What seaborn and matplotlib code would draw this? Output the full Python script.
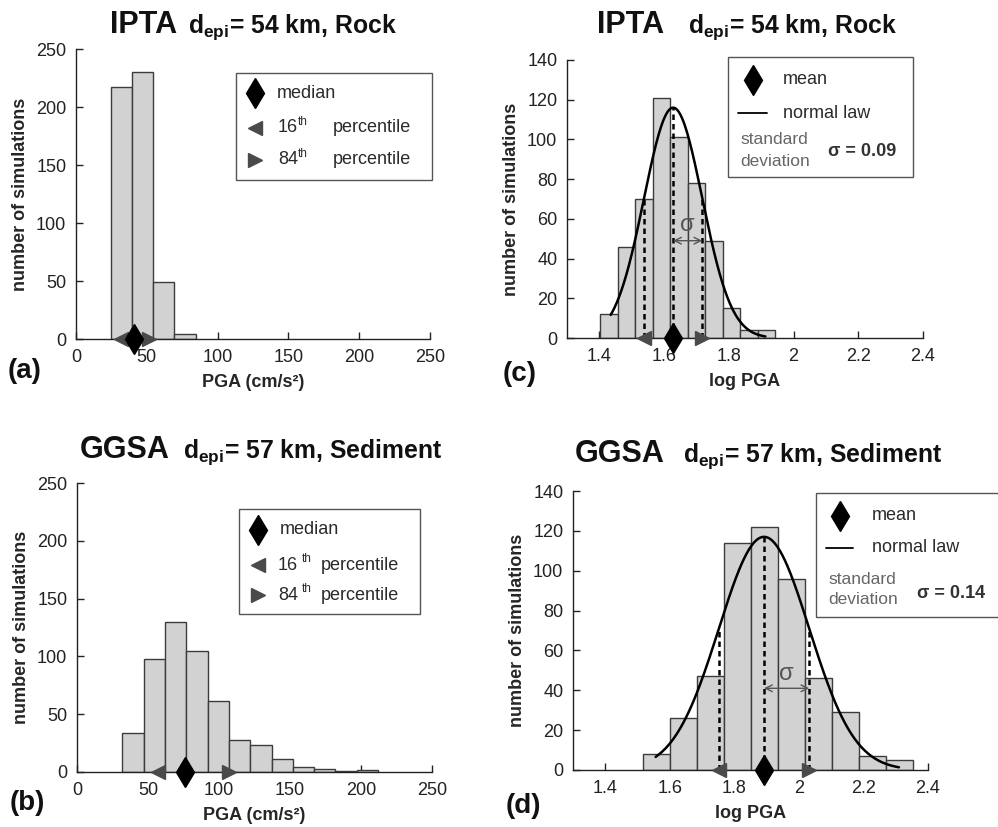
import numpy as np
import pandas as pd
import matplotlib
matplotlib.use("Agg")
import matplotlib.pyplot as plt
import seaborn as sns
from matplotlib.patches import Rectangle
from matplotlib.lines import Line2D

# ---------------- data ----------------
a_edges = [24.5, 39.5, 54.5, 69.5, 84.5]
a_counts = [217, 230, 49, 4]
a_median, a_p16, a_p84 = 41, 31.5, 51.5

b_edges = [32, 47, 62, 77, 92, 107, 122, 137, 152, 167, 182, 197, 212]
b_counts = [34, 98, 130, 105, 61, 28, 23, 11, 4, 3, 1, 2]
b_median, b_p16, b_p84 = 76, 57, 107

c_edges = [1.403, 1.457, 1.511, 1.565, 1.619, 1.673, 1.727, 1.781, 1.835, 1.889, 1.943]
c_counts = [12, 46, 70, 121, 101, 78, 49, 15, 4, 4]
c_mean, c_sigma, c_amp = 1.628, 0.09, 116
c_range = [1.435, 1.913]

d_edges = [1.516, 1.600, 1.684, 1.767, 1.851, 1.935, 2.019, 2.103, 2.187, 2.271, 2.355]
d_counts = [8, 26, 47, 114, 122, 96, 46, 29, 7, 5]
d_mean, d_sigma, d_amp = 1.892, 0.14, 117
d_range = [1.556, 2.310]

pga_ticks = [0, 50, 100, 150, 200, 250]
log_ticks = [1.4, 1.6, 1.8, 2.0, 2.2, 2.4]
log_ticklabels = ["1.4", "1.6", "1.8", "2", "2.2", "2.4"]
count_ticks_pga = [0, 50, 100, 150, 200, 250]
count_ticks_log = [0, 20, 40, 60, 80, 100, 120, 140]

# ---------------- style ----------------
sns.set_theme(style="ticks")
plt.rcParams["font.family"] = ["Liberation Sans", "DejaVu Sans"]
plt.rcParams["mathtext.fontset"] = "custom"
plt.rcParams["mathtext.rm"] = "Liberation Sans"
plt.rcParams["mathtext.bf"] = "Liberation Sans:bold"
plt.rcParams["mathtext.it"] = "Liberation Sans:italic"
plt.rcParams["xtick.direction"] = "in"
plt.rcParams["ytick.direction"] = "in"

W, H = 998, 827
fig = plt.figure(figsize=(W / 100, H / 100), dpi=100)


def fx(px):
    return px / W


def fy(py):
    return 1 - py / H


def make_ax(L, T, R, B):
    return fig.add_axes([fx(L), fy(B), (R - L) / W, (B - T) / H])


BAR_FC = "#d2d2d2"
BAR_EC = "#3c3c3c"
TRI_C = "#4a4a4a"
TXT_C = "#2a2a2a"
DIA_MS = 15
TRI_MS = 10


def base_axes(ax, xlim, xticks, xticklabels, ylim, yticks, xlabel):
    ax.set_xlim(*xlim)
    ax.set_ylim(*ylim)
    ax.set_xticks(xticks)
    ax.set_xticklabels(xticklabels)
    ax.set_yticks(yticks)
    sns.despine(ax=ax)
    for s in ["left", "bottom"]:
        ax.spines[s].set_color("#222222")
        ax.spines[s].set_linewidth(1.0)
    ax.tick_params(axis="both", labelsize=13, length=5, width=1, colors="#222222", pad=7)
    ax.set_xlabel(xlabel, fontsize=13, fontweight="bold", labelpad=6)
    ax.set_ylabel("number of simulations", fontsize=13, fontweight="bold", labelpad=5)
    ax.set_facecolor("white")


def hist(ax, edges, counts):
    e = [float(v) for v in edges]
    centers = [(e[i] + e[i + 1]) / 2 for i in range(len(e) - 1)]
    df = pd.DataFrame({"x": centers, "w": [float(c) for c in counts]})
    sns.histplot(data=df, x="x", weights="w", bins=e, ax=ax, stat="count",
                 color=BAR_FC, edgecolor=BAR_EC, linewidth=1.0, alpha=1)


def pct_markers(ax, median, p16, p84):
    ax.plot([p16], [0], marker="<", ms=TRI_MS, color=TRI_C, clip_on=False, zorder=10, ls="none")
    ax.plot([p84], [0], marker=">", ms=TRI_MS, color=TRI_C, clip_on=False, zorder=10, ls="none")
    ax.plot([median], [0], marker="d", ms=DIA_MS, color="black", clip_on=False, zorder=11, ls="none")


def normal_overlay(ax, mean, sigma, amp, xr, arrow_y, sig_y):
    xs = np.linspace(xr[0], xr[1], 300)
    ys = amp * np.exp(-0.5 * ((xs - mean) / sigma) ** 2)
    sns.lineplot(x=xs, y=ys, ax=ax, color="black", lw=1.8, zorder=5)
    for xv in [mean - sigma, mean, mean + sigma]:
        h = amp * np.exp(-0.5 * ((xv - mean) / sigma) ** 2)
        ax.plot([xv, xv], [0, h], color="black", lw=1.8, ls=(0, (2.2, 1.6)), zorder=6)
    ax.annotate("", xy=(mean, arrow_y), xytext=(mean + sigma, arrow_y),
                arrowprops=dict(arrowstyle="<->", color="#555555", lw=1.0,
                                shrinkA=0, shrinkB=0), zorder=7)
    ax.text(mean + sigma / 2, sig_y, "σ", fontsize=17, color="#555555",
            ha="center", va="center", zorder=7)
    pct_markers(ax, mean, mean - sigma, mean + sigma)


def fig_marker(x, y, marker, ms, color):
    fig.add_artist(Line2D([fx(x)], [fy(y)], marker=marker, ms=ms, color=color,
                          ls="none", transform=fig.transFigure, zorder=22))


def fig_box(x0, y0, x1, y1):
    fig.add_artist(Rectangle((fx(x0), fy(y1)), (x1 - x0) / W, (y1 - y0) / H,
                             transform=fig.transFigure, facecolor="white",
                             edgecolor="#555555", lw=1.0, zorder=20))


def ftxt(x, y, s, **kw):
    kw.setdefault("va", "center")
    kw.setdefault("ha", "left")
    kw.setdefault("zorder", 21)
    fig.text(fx(x), fy(y), s, **kw)


def pct_legend(box, mx, rows, tx16, txth, txpct, tx_med):
    fig_box(*box)
    fig_marker(mx, rows[0], "d", DIA_MS, "black")
    fig_marker(mx, rows[1], "<", TRI_MS, TRI_C)
    fig_marker(mx, rows[2], ">", TRI_MS, TRI_C)
    ftxt(tx_med, rows[0], "median", fontsize=13, color=TXT_C)
    for r, num in zip(rows[1:], ["16", "84"]):
        ftxt(tx16, r, num, fontsize=13, color=TXT_C)
        ftxt(txth, r - 6, "th", fontsize=8.5, color=TXT_C)
        ftxt(txpct, r, "percentile", fontsize=13, color=TXT_C)


def normal_legend(box, mx, rows, line_x, tx, std_x, std_rows, sig_x, sig_y, sig_txt):
    fig_box(*box)
    fig_marker(mx, rows[0], "d", DIA_MS, "black")
    fig.add_artist(Line2D([fx(line_x[0]), fx(line_x[1])], [fy(rows[1]), fy(rows[1])],
                          color="black", lw=1.3, transform=fig.transFigure, zorder=22))
    ftxt(tx, rows[0], "mean", fontsize=13, color=TXT_C)
    ftxt(tx, rows[1], "normal law", fontsize=13, color=TXT_C)
    ftxt(std_x, std_rows[0], "standard", fontsize=12.5, color="#666666")
    ftxt(std_x, std_rows[1], "deviation", fontsize=12.5, color="#666666")
    ftxt(sig_x, sig_y, sig_txt, fontsize=13, fontweight="bold", color="#333333")


def title(x_name, x_sub, base, name, sub):
    ftxt(x_name, base, name, fontsize=22, fontweight="bold", va="baseline", color="#111111")
    ftxt(x_sub, base, r"d$_{\mathbf{epi}}$= " + sub, fontsize=17.8, fontweight="bold",
         va="baseline", color="#111111")


# ---------------- panel (a) ----------------
ax_a = make_ax(76, 49, 430, 339)
hist(ax_a, a_edges, a_counts)
base_axes(ax_a, (0, 250), pga_ticks, [str(t) for t in pga_ticks], (0, 250),
          count_ticks_pga, "PGA (cm/s²)")
pct_markers(ax_a, a_median, a_p16, a_p84)

# ---------------- panel (b) ----------------
ax_b = make_ax(77, 483, 432, 772)
hist(ax_b, b_edges, b_counts)
base_axes(ax_b, (0, 250), pga_ticks, [str(t) for t in pga_ticks], (0, 250),
          count_ticks_pga, "PGA (cm/s²)")
pct_markers(ax_b, b_median, b_p16, b_p84)

# ---------------- panel (c) ----------------
ax_c = make_ax(567, 60, 923, 338)
hist(ax_c, c_edges, c_counts)
base_axes(ax_c, (1.3, 2.4), log_ticks, log_ticklabels, (0, 140),
          count_ticks_log, "log PGA")
normal_overlay(ax_c, c_mean, c_sigma, c_amp, c_range, 49, 57)

# ---------------- panel (d) ----------------
ax_d = make_ax(573, 491, 928, 770)
hist(ax_d, d_edges, d_counts)
base_axes(ax_d, (1.3, 2.4), log_ticks, log_ticklabels, (0, 140),
          count_ticks_log, "log PGA")
normal_overlay(ax_d, d_mean, d_sigma, d_amp, d_range, 41, 48)

# ---------------- titles ----------------
title(110, 188, 33, "IPTA", "54 km, Rock")
title(597, 688, 33, "IPTA", "54 km, Rock")
title(80, 183, 458, "GGSA", "57 km, Sediment")
title(575, 683, 462, "GGSA", "57 km, Sediment")

# ---------------- panel labels ----------------
for x, y, s in [(8, 378, "(a)"), (10, 810, "(b)"), (503, 381, "(c)"), (506, 813, "(d)")]:
    ftxt(x, y, s, fontsize=20, fontweight="bold", va="baseline", color="#111111")

# ---------------- legends ----------------
pct_legend((236, 73, 432, 180), 255, [93, 128, 160], 278, 298, 333, 277)
pct_legend((239, 509, 420, 614), 258, [530, 565, 595], 278, 302, 321, 280)
normal_legend((728, 57, 913, 177), 753, [80, 113], (738, 767), 783, 740, [140, 161],
              828, 152, "σ = 0.09")
normal_legend((816, 493, 1003, 617), 840, [516, 548], (826, 853), 872, 828, [579, 600],
              917, 593, "σ = 0.14")

fig.savefig("out.png", dpi=100, facecolor="white")
